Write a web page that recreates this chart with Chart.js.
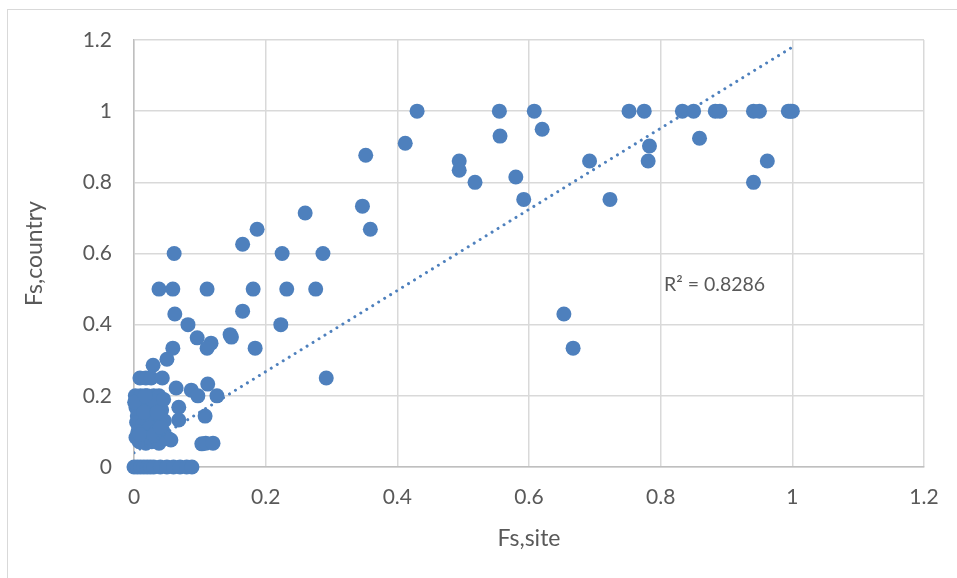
<!DOCTYPE html>
<html>
<head>
<meta charset="utf-8">
<script src="https://cdn.jsdelivr.net/npm/chart.js@4.4.1/dist/chart.umd.min.js"></script>
<style>
  html, body { margin: 0; padding: 0; background: #fff; overflow: hidden; }
  #frame { position: absolute; left: 7px; top: 9px; width: 1000px; height: 700px;
           border-left: 1.5px solid #d9d9d9; border-top: 1.5px solid #d9d9d9; }
  #myChart { position: absolute; left: 0; top: 0; }
</style>
</head>
<body>
<div id="frame"></div>
<canvas id="myChart" width="957" height="578"></canvas>
<script>
// Fs,site values (x)
const siteValues = [
  // y = 1 row
  0.43, 0.555, 0.608, 0.752, 0.775, 0.833, 0.85, 0.883, 0.89, 0.941, 0.95, 0.994, 0.997, 1.0,
  // upper right
  0.412, 0.352, 0.556, 0.62, 0.494, 0.494, 0.518, 0.58, 0.592, 0.692, 0.723, 0.783, 0.781, 0.859, 0.941, 0.962,
  0.653, 0.667,
  // middle
  0.347, 0.359, 0.26, 0.187, 0.165, 0.225, 0.287, 0.181, 0.232, 0.276, 0.165, 0.223, 0.184, 0.292,
  // left side
  0.061, 0.038, 0.059, 0.111, 0.062, 0.082, 0.096, 0.117, 0.111, 0.146, 0.148, 0.059, 0.05, 0.029,
  0.009, 0.018, 0.026, 0.043,
  0.064, 0.087, 0.097, 0.112, 0.126,
  0.068, 0.068, 0.108, 0.103, 0.109, 0.12, 0.05, 0.056,
  // dense cluster near origin
  0.002, 0.01, 0.02, 0.03, 0.038,
  0.003, 0.012, 0.022, 0.033, 0.042,
  0.005, 0.015, 0.025, 0.036, 0.046,
  0.004, 0.013, 0.028, 0.04,
  0.006, 0.024, 0.034, 0.044,
  0.003, 0.012, 0.022, 0.032, 0.047,
  0.008, 0.018, 0.027, 0.038,
  0.02, 0.03, 0.045,
  0.001, 0.015, 0.035, 0.009, 0.03, 0.017, 0.04,
  // zero row
  0, 0.005, 0.01, 0.015, 0.02, 0.025, 0.03, 0.04, 0.05, 0.06, 0.07, 0.08, 0.088
];
// Fs,country values (y)
const countryValues = [
  1, 1, 1, 1, 1, 1, 1, 1, 1, 1, 1, 1, 1, 1,
  0.91, 0.876, 0.93, 0.949, 0.86, 0.834, 0.80, 0.815, 0.752, 0.86, 0.752, 0.902, 0.86, 0.924, 0.80, 0.86,
  0.43, 0.334,
  0.733, 0.668, 0.714, 0.668, 0.626, 0.60, 0.60, 0.5, 0.5, 0.5, 0.438, 0.40, 0.334, 0.25,
  0.60, 0.5, 0.5, 0.5, 0.43, 0.40, 0.363, 0.348, 0.334, 0.372, 0.365, 0.334, 0.303, 0.286,
  0.25, 0.25, 0.25, 0.25,
  0.222, 0.216, 0.2, 0.233, 0.2,
  0.168, 0.132, 0.143, 0.065, 0.067, 0.067, 0.083, 0.076,
  0.2, 0.2, 0.2, 0.2, 0.2,
  0.167, 0.167, 0.167, 0.167, 0.16,
  0.143, 0.143, 0.143, 0.14, 0.13,
  0.125, 0.12, 0.125, 0.12,
  0.1, 0.111, 0.1, 0.1,
  0.083, 0.077, 0.083, 0.077, 0.083,
  0.071, 0.067, 0.071, 0.067,
  0.18, 0.185, 0.19,
  0.182, 0.154, 0.154, 0.091, 0.09, 0.2, 0.111,
  0, 0, 0, 0, 0, 0, 0, 0, 0, 0, 0, 0, 0
];
// linear trendline end points
const trendX = [0, 1];
const trendY = [0.04, 1.18];
const rSquaredText = 'R² = 0.8286';
const xTicks = [0, 0.2, 0.4, 0.6, 0.8, 1, 1.2];
const yTicks = [0, 0.2, 0.4, 0.6, 0.8, 1, 1.2];

const blue = '#4e80bd';
const textGrey = '#595959';
const fontFamily = 'Lato, "Open Sans", sans-serif';

const points = siteValues.map((x, i) => ({ x: x, y: countryValues[i] }));
const trend = trendX.map((x, i) => ({ x: x, y: trendY[i] }));

// label for the trendline
const r2Label = {
  id: 'r2Label',
  afterDatasetsDraw(chart) {
    const { ctx, scales } = chart;
    ctx.save();
    ctx.font = '19.5px ' + fontFamily;
    ctx.fillStyle = textGrey;
    ctx.textBaseline = 'middle';
    ctx.textAlign = 'left';
    ctx.fillText(rSquaredText, scales.x.getPixelForValue(0.805), scales.y.getPixelForValue(0.513));
    ctx.restore();
  }
};

const ctx = document.getElementById('myChart').getContext('2d');
const myChart = new Chart(ctx, {
  type: 'scatter',
  data: {
    datasets: [
      {
        type: 'line',
        data: trend,
        borderColor: blue,
        borderWidth: 3,
        borderDash: [0.01, 7],
        borderCapStyle: 'round',
        pointRadius: 0,
        fill: false,
        order: 0
      },
      {
        data: points,
        backgroundColor: blue,
        borderColor: blue,
        borderWidth: 0,
        pointRadius: 7.5,
        pointHoverRadius: 7.5,
        clip: false,
        order: 1
      }
    ]
  },
  options: {
    responsive: false,
    animation: false,
    events: [],
    layout: { padding: { left: 0, top: 40, right: 33, bottom: 0 } },
    plugins: { legend: { display: false }, tooltip: { enabled: false } },
    scales: {
      x: {
        type: 'linear',
        min: 0, max: 1.2,
        afterBuildTicks: (s) => { s.ticks = xTicks.map(v => ({ value: v })); },
        afterFit: (s) => { s.height = 111; },
        grid: { color: '#d9d9d9', lineWidth: 1.5, drawTicks: false },
        border: { color: '#bfbfbf', width: 1.5 },
        ticks: { color: textGrey, font: { family: fontFamily, size: 21 }, padding: 18,
                 callback: (v) => String(Math.round(v * 10) / 10) },
        title: { display: true, text: 'Fs,site', color: textGrey,
                 font: { family: fontFamily, size: 23 }, padding: { top: 0, bottom: 26 } }
      },
      y: {
        type: 'linear',
        min: 0, max: 1.2,
        afterBuildTicks: (s) => { s.ticks = yTicks.map(v => ({ value: v })); },
        afterFit: (s) => { s.width = 134; },
        grid: { color: '#d9d9d9', lineWidth: 1.5, drawTicks: false },
        border: { color: '#bfbfbf', width: 1.5 },
        ticks: { color: textGrey, font: { family: fontFamily, size: 21 }, padding: 22,
                 callback: (v) => String(Math.round(v * 10) / 10) },
        title: { display: true, text: 'Fs,country', color: textGrey,
                 font: { family: fontFamily, size: 23 }, padding: { top: 21, bottom: 0 } }
      }
    }
  },
  plugins: [r2Label]
});
</script>
</body>
</html>
